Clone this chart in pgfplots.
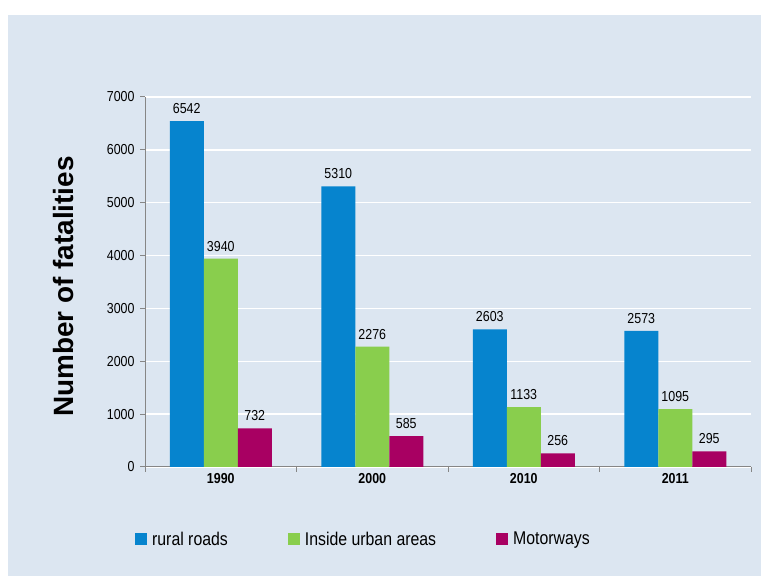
\documentclass[border=0pt]{standalone}
\usepackage{pgfplots}
\pgfplotsset{compat=1.18}
\usepackage{fontspec}
\setmainfont{Liberation Sans}
\newfontfamily\narrow[FakeStretch=0.86]{Liberation Sans}
\definecolor{bgc}{RGB}{220,230,241}
\definecolor{cblue}{RGB}{6,132,206}
\definecolor{cgreen}{RGB}{137,206,77}
\definecolor{cmag}{RGB}{168,0,98}
\definecolor{axgray}{RGB}{134,134,134}
\begin{document}
\begin{tikzpicture}[x=1bp,y=1bp]
\fill[white] (0,0) rectangle (761,577);
\fill[bgc] (8,1) rectangle (761,562);
\begin{axis}[
  at={(145bp,110bp)}, anchor=south west,
  scale only axis, width=606bp, height=370bp,
  xmin=-0.5, xmax=3.5, ymin=0, ymax=7000,
  ybar=0pt, bar width=34bp,
  /pgf/number format/assume math mode=true,
  /pgf/number format/1000 sep={},
  xtick={-0.5,0.5,1.5,2.5,3.5}, xticklabels={},
  extra x ticks={0,1,2,3}, extra x tick labels={1990,2000,2010,2011},
  extra x tick style={major tick length=0pt, grid=none, tick label style={font=\narrow\bfseries\fontsize{14.5}{14.5}\selectfont}},
  ytick={0,1000,...,7000},
  ymajorgrids, grid style={white, line width=1.5bp},
  axis x line*=bottom, axis y line*=left,
  axis line style={axgray, line width=1bp},
  tick style={axgray, line width=1bp},
  tick align=outside, major tick length=5bp,
  tick label style={font=\narrow\fontsize{14.5}{14.5}\selectfont},
  yticklabel style={xshift=-2bp},
  xticklabel style={yshift=-3bp},
  nodes near coords,
  nodes near coords style={font=\narrow\fontsize{14.5}{14.5}\selectfont, text=black, yshift=4bp,
    /pgf/number format/assume math mode=true, /pgf/number format/1000 sep={}},
  ylabel={Number of fatalities},
  ylabel style={font=\bfseries\fontsize{28}{28}\selectfont, at={(axis description cs:-0.135,0.488)}, anchor=center},
  legend columns=3,
  legend style={draw=none, fill=none, at={(axis description cs:-0.0215,-0.195)}, anchor=west,
    font=\narrow\fontsize{18.5}{18.5}\selectfont,
    /tikz/every even column/.append style={column sep=58bp}},
  legend image code/.code={\fill[#1] (0bp,-6bp) rectangle (12bp,6bp);},
]
\addplot[fill=cblue, draw=none] coordinates {(0,6542) (1,5310) (2,2603) (3,2573)};
\addplot[fill=cgreen, draw=none] coordinates {(0,3940) (1,2276) (2,1133) (3,1095)};
\addplot[fill=cmag, draw=none] coordinates {(0,732) (1,585) (2,256) (3,295)};
\legend{\hspace{3bp}rural roads, \hspace{3bp}Inside urban areas, \hspace{3bp}Motorways}
\end{axis}
\pgfresetboundingbox
\useasboundingbox (0,0) rectangle (761,577);
\end{tikzpicture}
\end{document}
